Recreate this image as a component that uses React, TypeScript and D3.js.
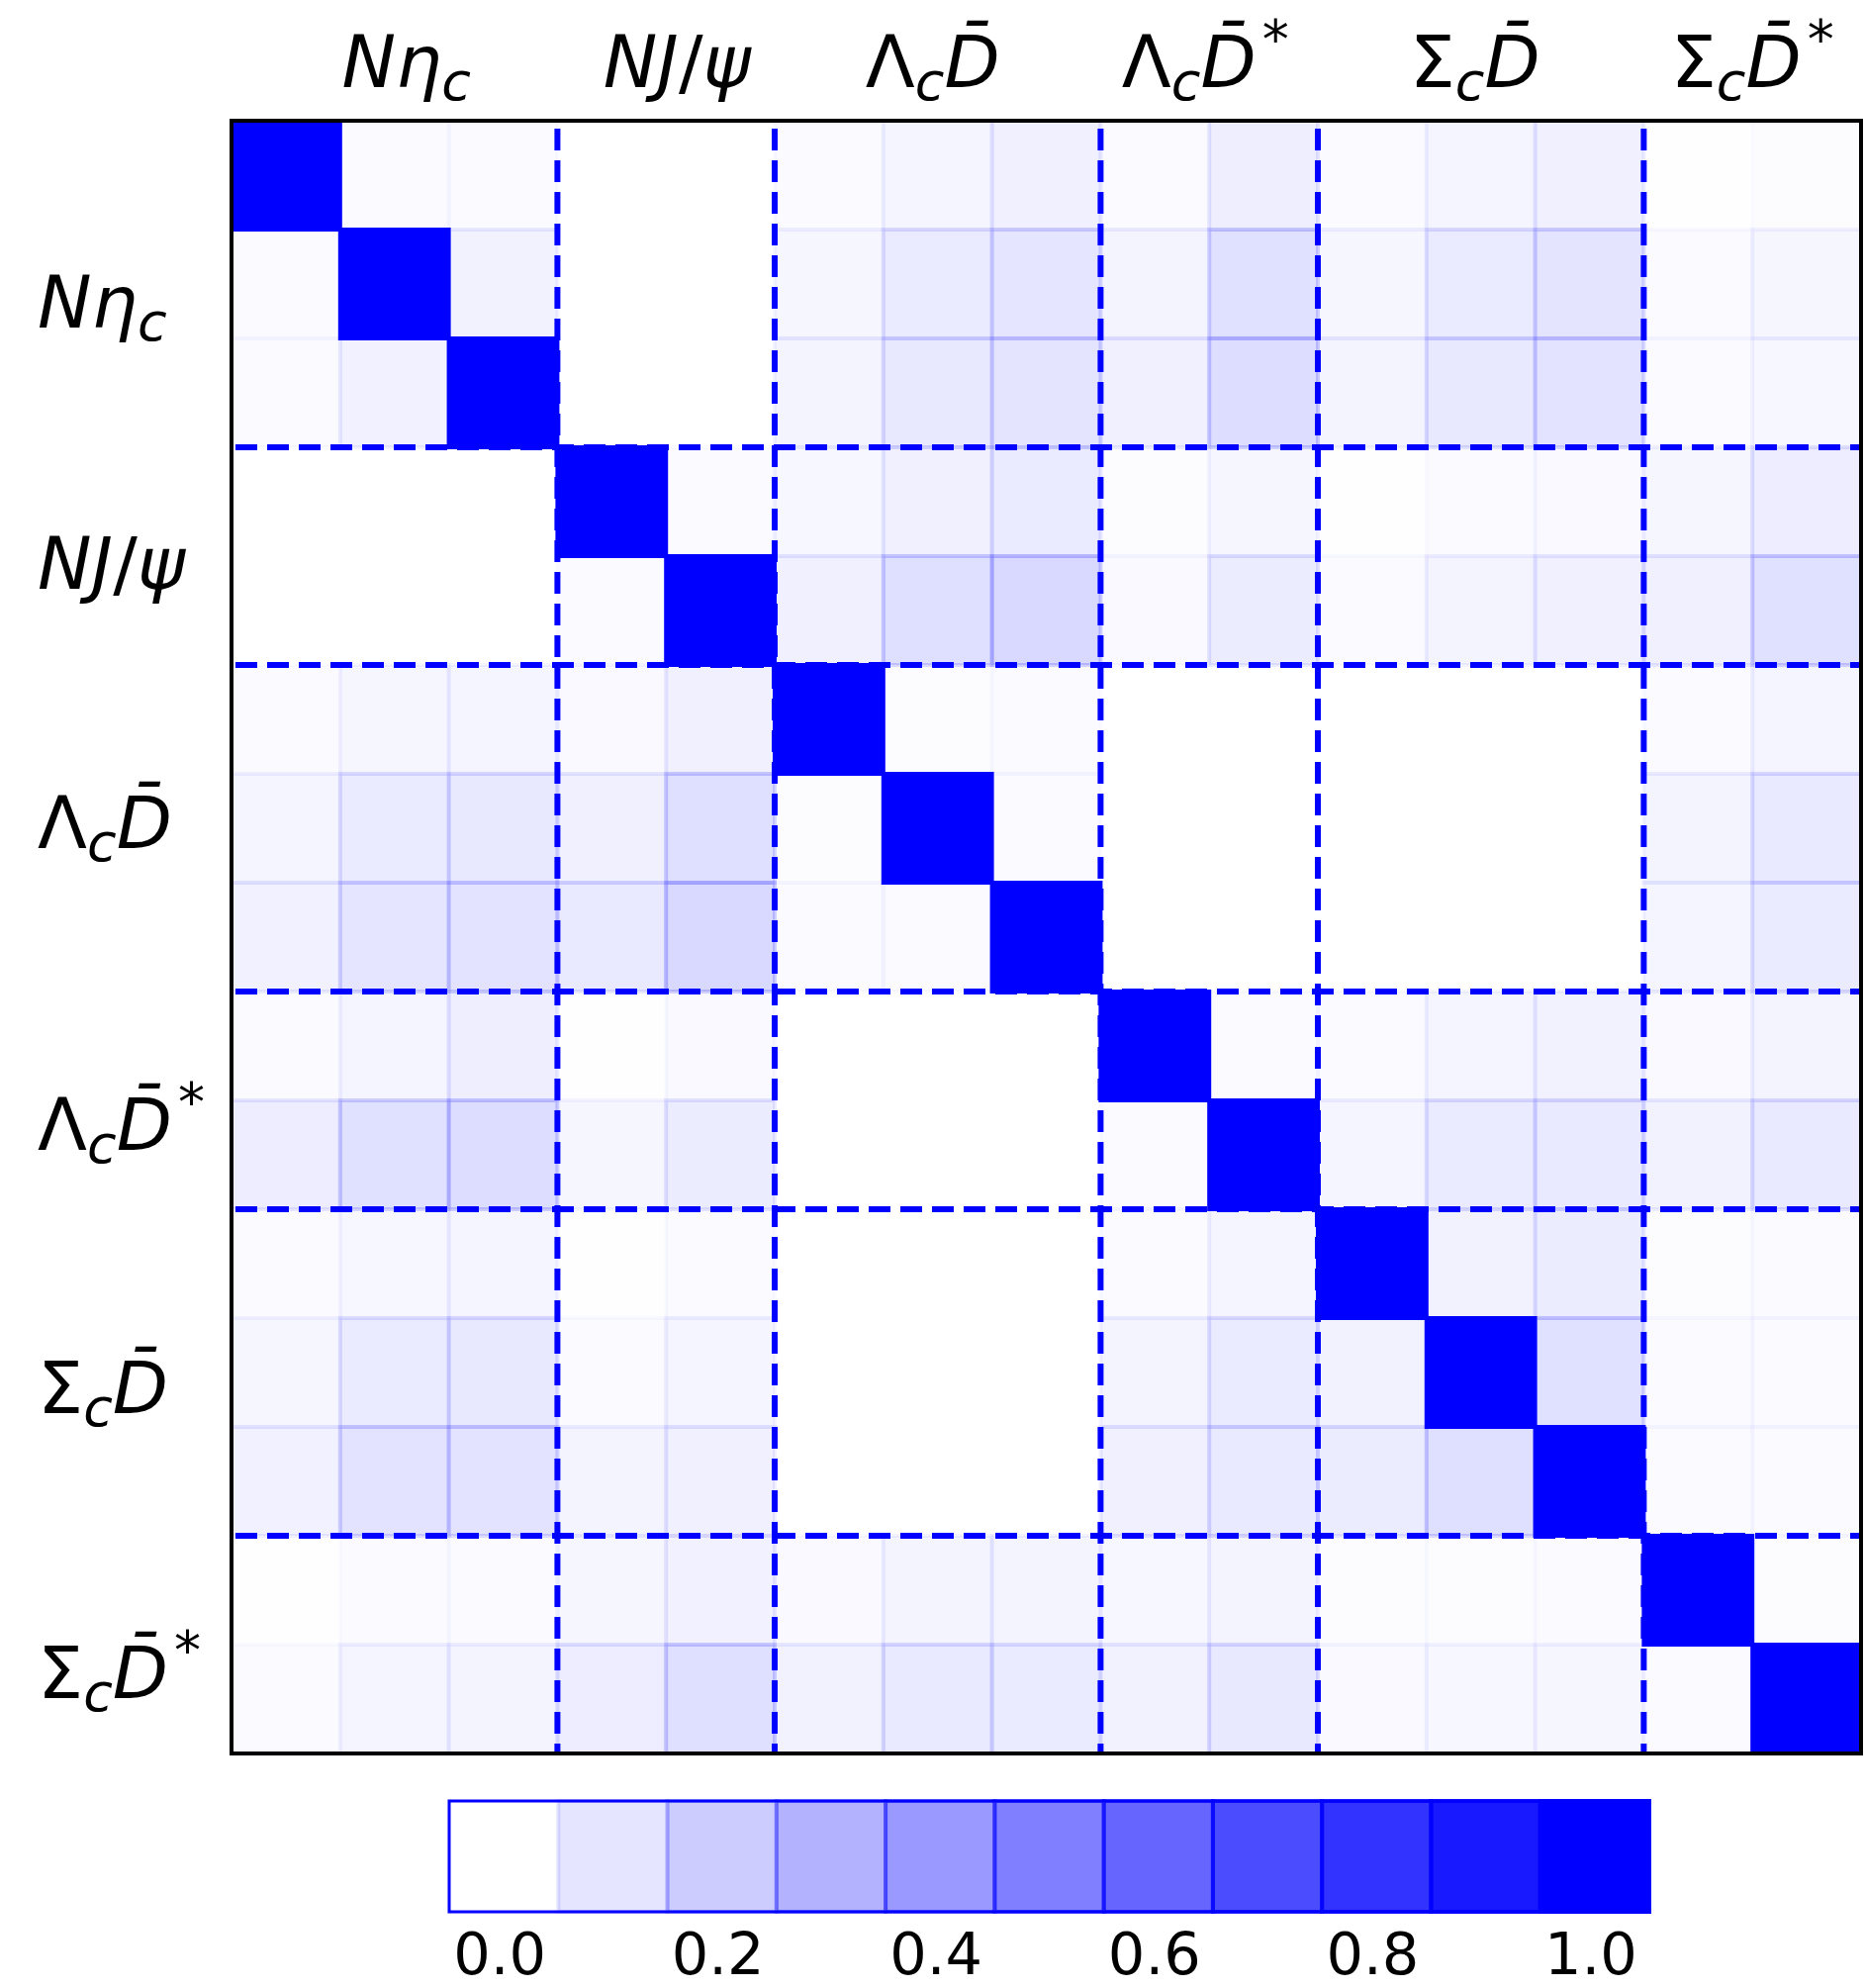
import { useEffect, useRef } from 'react';
import * as d3 from 'd3';

// channel groups (each channel has several basis states)
const channelNames = ['Nηc', 'NJ/ψ', 'ΛcD̄', 'ΛcD̄*', 'ΣcD̄', 'ΣcD̄*'];
const channelSizes = [3, 2, 3, 2, 3, 2];

// label pieces: text, italic, sub/sup
const channelLabels = [
  [{ t: 'N', it: true }, { t: 'η', it: true }, { t: 'c', it: true, pos: 'sub' }],
  [{ t: 'N', it: true }, { t: 'J', it: true }, { t: '/', it: false }, { t: 'ψ', it: true }],
  [{ t: 'Λ', it: false }, { t: 'c', it: true, pos: 'sub' }, { t: 'D\u0304', it: true }],
  [{ t: 'Λ', it: false }, { t: 'c', it: true, pos: 'sub' }, { t: 'D\u0304', it: true }, { t: '*', it: false, pos: 'sup' }],
  [{ t: 'Σ', it: false }, { t: 'c', it: true, pos: 'sub' }, { t: 'D\u0304', it: true }],
  [{ t: 'Σ', it: false }, { t: 'c', it: true, pos: 'sub' }, { t: 'D\u0304', it: true }, { t: '*', it: false, pos: 'sup' }],
];

// overlap matrix (15 x 15)
const overlap = [
  [1, 0.015, 0.02, 0, 0, 0.02, 0.04, 0.06, 0.02, 0.065, 0.02, 0.04, 0.06, 0.005, 0.01],
  [0.015, 1, 0.05, 0, 0, 0.035, 0.08, 0.1, 0.045, 0.12, 0.035, 0.08, 0.105, 0.02, 0.035],
  [0.02, 0.055, 1, 0, 0, 0.045, 0.09, 0.105, 0.06, 0.135, 0.045, 0.09, 0.11, 0.015, 0.03],
  [0, 0, 0, 1, 0.015, 0.03, 0.06, 0.08, 0.01, 0.035, 0.005, 0.015, 0.025, 0.035, 0.07],
  [0, 0, 0, 0.015, 1, 0.06, 0.125, 0.15, 0.025, 0.075, 0.02, 0.045, 0.06, 0.06, 0.12],
  [0.015, 0.035, 0.04, 0.025, 0.06, 1, 0.01, 0.015, 0, 0, 0, 0, 0, 0.02, 0.04],
  [0.04, 0.08, 0.09, 0.06, 0.125, 0.01, 1, 0.02, 0, 0, 0, 0, 0, 0.045, 0.085],
  [0.055, 0.1, 0.11, 0.085, 0.15, 0.02, 0.02, 1, 0, 0, 0, 0, 0, 0.04, 0.08],
  [0.015, 0.04, 0.065, 0.005, 0.025, 0, 0, 0, 1, 0.02, 0.02, 0.04, 0.05, 0.025, 0.045],
  [0.07, 0.12, 0.135, 0.035, 0.075, 0, 0, 0, 0.02, 1, 0.04, 0.08, 0.085, 0.05, 0.085],
  [0.015, 0.03, 0.04, 0.005, 0.02, 0, 0, 0, 0.02, 0.04, 1, 0.05, 0.075, 0.01, 0.015],
  [0.035, 0.08, 0.09, 0.02, 0.04, 0, 0, 0, 0.045, 0.08, 0.05, 1, 0.12, 0.015, 0.02],
  [0.055, 0.11, 0.11, 0.045, 0.06, 0, 0, 0, 0.06, 0.085, 0.075, 0.125, 1, 0.015, 0.02],
  [0.005, 0.015, 0.015, 0.035, 0.055, 0.025, 0.045, 0.045, 0.03, 0.045, 0.01, 0.01, 0.015, 1, 0.01],
  [0.015, 0.04, 0.045, 0.07, 0.125, 0.05, 0.085, 0.08, 0.05, 0.09, 0.025, 0.03, 0.035, 0.015, 1],
];

const colorLevels = [0, 0.1, 0.2, 0.3, 0.4, 0.5, 0.6, 0.7, 0.8, 0.9, 1.0];
const colorTicks = [0, 0.2, 0.4, 0.6, 0.8, 1.0];

const W = 1884;
const H = 2009;
const FONT = 'DejaVu Sans';

const App = () => {
  const svgRef = useRef(null);

  useEffect(() => {
    const svg = d3.select(svgRef.current);
    svg.selectAll('*').remove();

    const n = overlap.length;
    const idx = d3.range(n);
    const x = d3.scaleBand().domain(idx).range([234, 1881]);
    const y = d3.scaleBand().domain(idx).range([122, 1772]);
    const cellW = x.bandwidth();
    const cellH = y.bandwidth();

    // group boundaries and centers
    const bounds = d3.cumsum(channelSizes);
    const starts = [0, ...bounds.slice(0, -1)];
    const centers = starts.map((s, i) => s + channelSizes[i] / 2);
    const xPos = (v) => 234 + v * cellW;
    const yPos = (v) => 122 + v * cellH;

    const cells = [];
    overlap.forEach((row, i) => row.forEach((v, j) => cells.push({ i, j, v })));

    svg.append('g')
      .selectAll('rect')
      .data(cells.filter(d => d.v > 0))
      .enter()
      .append('rect')
      .attr('x', d => x(d.j))
      .attr('y', d => y(d.i))
      .attr('width', cellW)
      .attr('height', cellH)
      .attr('fill', 'blue')
      .attr('fill-opacity', d => d.v)
      .attr('stroke', 'blue')
      .attr('stroke-opacity', d => d.v)
      .attr('stroke-width', 4);

    // dashed separators between channels
    const seps = bounds.slice(0, -1);
    const lines = svg.append('g')
      .attr('stroke', 'blue')
      .attr('stroke-width', 6)
      .attr('stroke-dasharray', '22 10');
    seps.forEach(b => {
      lines.append('line')
        .attr('x1', xPos(b)).attr('x2', xPos(b))
        .attr('y1', 122).attr('y2', 1772)
        .attr('stroke-dashoffset', 24);
      lines.append('line')
        .attr('x1', 234).attr('x2', 1881)
        .attr('y1', yPos(b)).attr('y2', yPos(b))
        .attr('stroke-dashoffset', -4);
    });

    // frame
    svg.append('rect')
      .attr('x', 234).attr('y', 122)
      .attr('width', 1881 - 234).attr('height', 1772 - 122)
      .attr('fill', 'none')
      .attr('stroke', 'black')
      .attr('stroke-width', 4);

    const fontSize = 73;
    const drawLabel = (sel, parts) => {
      let shift = 0;
      parts.forEach(p => {
        const target = p.pos === 'sub' ? 13 : p.pos === 'sup' ? -30 : 0;
        sel.append('tspan')
          .attr('dy', target - shift)
          .attr('dx', p.pos === 'sup' ? 6 : 0)
          .attr('font-style', p.it ? 'italic' : 'normal')
          .attr('font-size', p.pos ? fontSize * 0.74 : fontSize)
          .text(p.t);
        shift = target;
      });
    };

    // top labels
    const topNudge = [12, 11, -5, -4, -6, 0];
    channelLabels.forEach((parts, k) => {
      const t = svg.append('text')
        .attr('x', xPos(centers[k]) + topNudge[k])
        .attr('y', 88)
        .attr('text-anchor', 'middle')
        .attr('font-family', FONT)
        .attr('fill', 'black');
      drawLabel(t, parts);
      t.append('title').text(channelNames[k]);
    });

    // left labels
    const leftNudge = [44, 33, 20, 50, 41, 54];
    channelLabels.forEach((parts, k) => {
      const t = svg.append('text')
        .attr('x', 38)
        .attr('y', yPos(centers[k]) + leftNudge[k])
        .attr('text-anchor', 'start')
        .attr('font-family', FONT)
        .attr('fill', 'black');
      drawLabel(t, parts);
    });

    // colour bar
    const cb = d3.scaleBand().domain(colorLevels).range([454, 1667]);
    const cbTop = 1820;
    const cbH = 112;
    svg.append('g')
      .selectAll('rect')
      .data(colorLevels.filter(v => v > 0))
      .enter()
      .append('rect')
      .attr('x', d => cb(d))
      .attr('y', cbTop)
      .attr('width', cb.bandwidth())
      .attr('height', cbH)
      .attr('fill', 'blue')
      .attr('fill-opacity', d => d)
      .attr('stroke', 'blue')
      .attr('stroke-opacity', d => d)
      .attr('stroke-width', 4);

    svg.append('rect')
      .attr('x', 454).attr('y', cbTop)
      .attr('width', 1667 - 454).attr('height', cbH)
      .attr('fill', 'none')
      .attr('stroke', 'blue')
      .attr('stroke-width', 3);

    svg.append('g')
      .selectAll('text')
      .data(colorTicks)
      .enter()
      .append('text')
      .attr('x', d => cb(colorLevels.find(l => Math.abs(l - d) < 1e-9)) + cb.bandwidth() / 2 - 4)
      .attr('y', 1995)
      .attr('text-anchor', 'middle')
      .attr('font-family', FONT)
      .attr('font-size', 59)
      .attr('fill', 'black')
      .text(d => d3.format('.1f')(d));
  }, []);

  return (
    <svg
      ref={svgRef}
      width={W}
      height={H}
      style={{ position: 'absolute', left: 0, top: 0, background: 'white' }}
    />
  );
};

export default App;
